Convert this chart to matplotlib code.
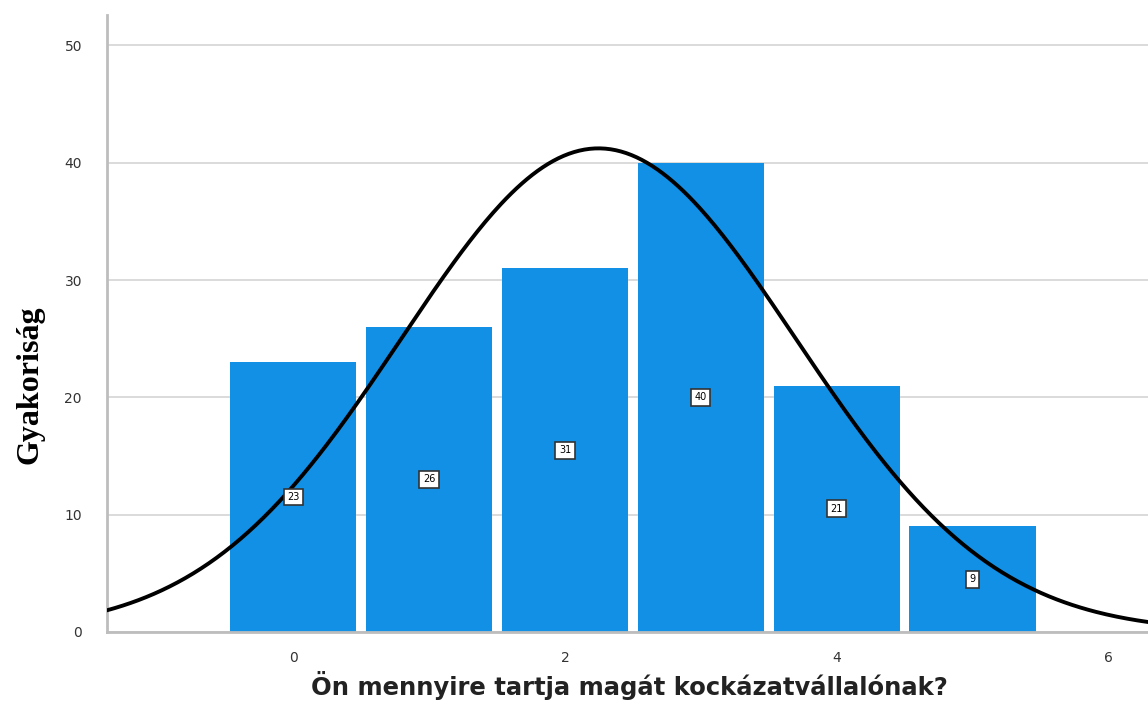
import numpy as np
import matplotlib
matplotlib.use('Agg')
import matplotlib.pyplot as plt

values = [0, 1, 2, 3, 4, 5]
counts = [23, 26, 31, 40, 21, 9]
x_ticks = [0, 2, 4, 6]
y_ticks = [0, 10, 20, 30, 40, 50]


def normal_curve(values, counts, xs):
    v = np.array(values, dtype=float)
    c = np.array(counts, dtype=float)
    n = c.sum()
    mean = np.sum(v * c) / n
    var = np.sum(c * (v - mean) ** 2) / (n - 1)
    sd = np.sqrt(var)
    return n / (sd * np.sqrt(2 * np.pi)) * np.exp(-0.5 * ((xs - mean) / sd) ** 2)


fig = plt.figure(figsize=(11.48, 7.04), dpi=100)
ax = fig.add_axes([0.0932, 0.1023, 0.9068, 0.8764])

ax.set_xlim(-1.37, 6.29)
ax.set_ylim(0, 52.6)

ax.yaxis.grid(True, color='#d4d4d4', linewidth=1.2)
ax.set_axisbelow(True)

ax.bar(values, counts, width=0.93, color='#1190e6', linewidth=0, zorder=2)

for v, c in zip(values, counts):
    ax.text(v, c / 2, str(c), ha='center', va='center', fontsize=7, zorder=4,
            bbox=dict(boxstyle='square,pad=0.35', facecolor='white', edgecolor='#333333', linewidth=1.2))

xs = np.linspace(-1.37, 6.29, 400)
ax.plot(xs, normal_curve(values, counts, xs), color='black', linewidth=2.8, zorder=3)

ax.set_xticks(x_ticks)
ax.set_yticks(y_ticks)
ax.tick_params(length=0, labelsize=10, labelcolor='#333333', pad=14)
ax.tick_params(axis='y', pad=18)

for s in ['top', 'right']:
    ax.spines[s].set_visible(False)
for s in ['left', 'bottom']:
    ax.spines[s].set_color('#bdbdbd')
    ax.spines[s].set_linewidth(2)

ax.set_ylabel('Gyakoriság', fontsize=23, fontweight='bold', family='Liberation Serif')
ax.yaxis.set_label_coords(-0.0596, 0.40)
ax.set_xlabel('Ön mennyire tartja magát kockázatvállalónak?', fontsize=17.5,
              fontweight='bold', family='DejaVu Sans', color='#222222')
ax.xaxis.label.set_va('baseline')
ax.xaxis.set_label_coords(0.502, -0.102)

fig.savefig('out.png', dpi=100)
